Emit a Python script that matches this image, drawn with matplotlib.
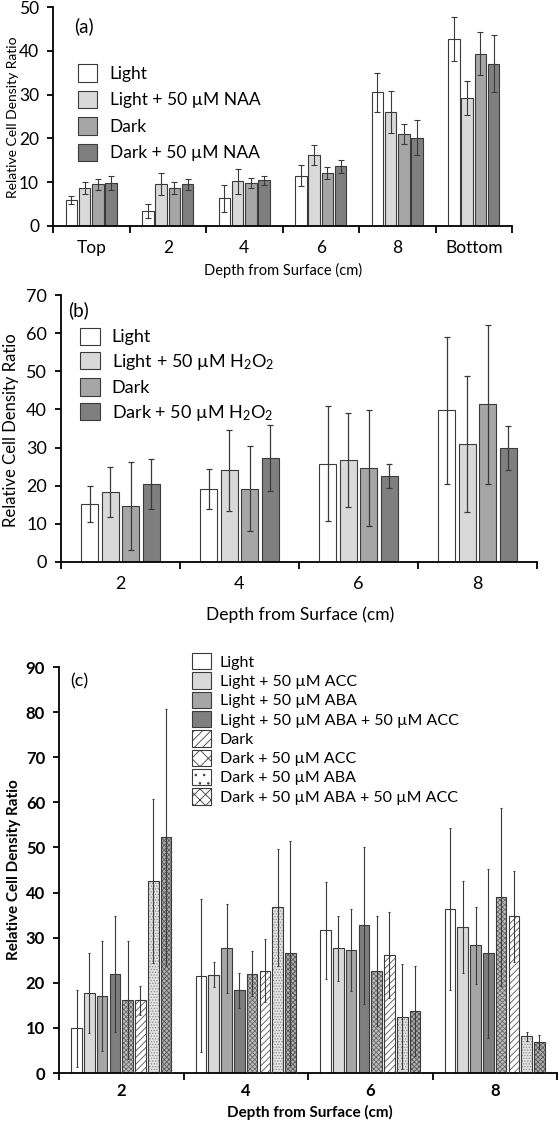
import matplotlib
matplotlib.use("Agg")
import matplotlib.pyplot as plt
from matplotlib.patches import Patch
import numpy as np

plt.rcParams['font.family'] = ['Lato', 'DejaVu Sans']
plt.rcParams['mathtext.fontset'] = 'custom'
plt.rcParams['mathtext.rm'] = 'Lato'
plt.rcParams['mathtext.it'] = 'Lato:italic'
plt.rcParams['hatch.linewidth'] = 0.6

# ---------------- data ----------------
cats_a = ["Top", "2", "4", "6", "8", "Bottom"]
series_a = ["Light", "Light + 50 µM NAA", "Dark", "Dark + 50 µM NAA"]
light_a = [6.0, 3.4, 6.3, 11.5, 30.5, 42.7]
light_naa_a = [8.7, 9.5, 10.2, 16.3, 26.1, 29.2]
dark_a = [9.5, 8.7, 9.8, 12.1, 21.0, 39.3]
dark_naa_a = [9.8, 9.5, 10.4, 13.6, 20.1, 37.0]
err_light_a = [0.9, 1.6, 3.1, 2.4, 4.4, 5.1]
err_light_naa_a = [1.4, 2.5, 2.8, 2.3, 4.8, 3.9]
err_dark_a = [1.3, 1.4, 1.2, 1.3, 2.3, 4.9]
err_dark_naa_a = [1.6, 1.3, 1.1, 1.4, 4.0, 6.5]

cats_b = ["2", "4", "6", "8"]
series_b = ["Light", "Light + 50 µM H$_2$O$_2$", "Dark", "Dark + 50 µM H$_2$O$_2$"]
light_b = [15.2, 19.2, 25.8, 39.8]
light_h2o2_b = [18.4, 24.1, 26.8, 30.9]
dark_b = [14.7, 19.2, 24.7, 41.3]
dark_h2o2_b = [20.5, 27.3, 22.5, 29.9]
err_light_b = [4.8, 5.3, 15.0, 19.3]
err_light_h2o2_b = [6.5, 10.6, 12.3, 17.8]
err_dark_b = [11.5, 11.2, 15.2, 20.8]
err_dark_h2o2_b = [6.5, 8.6, 3.1, 5.8]

cats_c = ["2", "4", "6", "8"]
series_c = ["Light", "Light + 50 µM ACC", "Light + 50 µM ABA",
            "Light + 50 µM ABA + 50 µM ACC", "Dark", "Dark + 50 µM ACC",
            "Dark + 50 µM ABA", "Dark + 50 µM ABA + 50 µM ACC"]
light_c = [9.9, 21.6, 31.6, 36.4]
light_acc_c = [17.7, 21.8, 27.6, 32.3]
light_aba_c = [17.1, 27.6, 27.3, 28.3]
light_aba_acc_c = [21.9, 18.3, 32.7, 26.5]
dark_c = [16.1, 22.0, 22.7, 39.0]
dark_acc_c = [16.1, 22.7, 26.1, 34.7]
dark_aba_c = [42.5, 36.7, 12.5, 8.1]
dark_aba_acc_c = [52.3, 26.6, 13.8, 6.9]
err_light_c = [8.5, 16.9, 10.8, 17.9]
err_light_acc_c = [8.9, 2.7, 7.1, 10.2]
err_light_aba_c = [12.2, 9.9, 9.1, 8.5]
err_light_aba_acc_c = [12.9, 3.8, 17.3, 18.8]
err_dark_c = [13.1, 5.0, 12.2, 19.7]
err_dark_acc_c = [3.2, 7.0, 9.5, 10.1]
err_dark_aba_c = [18.2, 12.9, 11.6, 0.9]
err_dark_aba_acc_c = [28.5, 24.9, 10.0, 1.5]

# ---------------- layout ----------------
W, H = 559, 1126
fig = plt.figure(figsize=(W / 100, H / 100), dpi=100)


def rect(l, r, t, b):
    return [l / W, 1 - b / H, (r - l) / W, (b - t) / H]


EDGE = '#3a3a3a'
ERR = '#3a3a3a'


def style_axes(ax, ncat, cats, ymax, ystep, fs, bold=False, pad=10):
    ax.set_xlim(0, ncat)
    ax.set_ylim(0, ymax)
    for s in ['top', 'right']:
        ax.spines[s].set_visible(False)
    for s in ['left', 'bottom']:
        ax.spines[s].set_color('#000000')
        ax.spines[s].set_linewidth(1.3)
    ax.set_yticks(np.arange(0, ymax + 0.1, ystep))
    ax.set_xticks(np.arange(0, ncat + 1))
    ax.set_xticklabels([])
    ax.set_xticks(np.arange(ncat) + 0.5, minor=True)
    ax.set_xticklabels(cats, minor=True,
                       fontsize=fs, fontweight='bold' if bold else 'normal')
    ax.tick_params(axis='x', which='major', length=5, width=1.3, direction='out')
    ax.tick_params(axis='x', which='minor', length=0, pad=pad)
    ax.tick_params(axis='y', length=4, width=1.3, direction='out', pad=6,
                   labelsize=fs)
    if bold:
        for t in ax.get_yticklabels():
            t.set_fontweight('bold')


def draw_group_bars(ax, values, errors, colors, hatches, occ, barfrac, capsize,
                    elw, hatchcols=None):
    n = len(values)
    slot = occ / n
    for j in range(n):
        x = np.arange(len(values[j])) + 0.5 + (j - (n - 1) / 2) * slot
        w = slot * barfrac
        if hatches[j]:
            ax.bar(x, values[j], width=w, color=colors[j], edgecolor=hatchcols[j],
                   hatch=hatches[j], linewidth=0, zorder=2)
            ax.bar(x, values[j], width=w, fill=False, edgecolor=EDGE,
                   linewidth=0.8, zorder=3)
        else:
            ax.bar(x, values[j], width=w, color=colors[j], edgecolor=EDGE,
                   linewidth=0.8, zorder=2)
        ax.errorbar(x, values[j], yerr=errors[j], fmt='none', ecolor=ERR,
                    elinewidth=elw, capsize=capsize, capthick=elw, zorder=4)


# ---------------- panel (a) ----------------
axa = fig.add_axes(rect(53, 512, 7, 226))
cols4 = ['#ffffff', '#d9d9d9', '#a6a6a6', '#7f7f7f']
draw_group_bars(axa, [light_a, light_naa_a, dark_a, dark_naa_a],
                [err_light_a, err_light_naa_a, err_dark_a, err_dark_naa_a],
                cols4, [None] * 4, 0.69, 0.87, 2.0, 0.8)
style_axes(axa, 6, cats_a, 50, 10, 12.5)
axa.text(0.045, 0.955, '(a)', transform=axa.transAxes, fontsize=13.5,
         va='top', ha='left')
handles_a = [Patch(facecolor=c, edgecolor=EDGE, linewidth=0.8) for c in cols4]
axa.legend(handles_a, series_a, loc='upper left', bbox_to_anchor=(0.04, 0.77),
           frameon=False, fontsize=12.5, handlelength=1.1, handleheight=1.15,
           handletextpad=0.7, labelspacing=0.52, borderaxespad=0)
fig.text(283 / W, 1 - 270 / H, 'Depth from Surface (cm)', fontsize=10.5,
         ha='center', va='center')
fig.text(13 / W, 1 - 117 / H, 'Relative Cell Density Ratio', fontsize=10,
         ha='center', va='center', rotation=90)

# ---------------- panel (b) ----------------
axb = fig.add_axes(rect(61, 537, 295, 562))
draw_group_bars(axb, [light_b, light_h2o2_b, dark_b, dark_h2o2_b],
                [err_light_b, err_light_h2o2_b, err_dark_b, err_dark_h2o2_b],
                cols4, [None] * 4, 0.69, 0.85, 2.2, 0.9)
style_axes(axb, 4, cats_b, 70, 10, 13)
axb.text(0.015, 0.975, '(b)', transform=axb.transAxes, fontsize=13.5,
         va='top', ha='left')
handles_b = [Patch(facecolor=c, edgecolor=EDGE, linewidth=0.8) for c in cols4]
axb.legend(handles_b, series_b, loc='upper left', bbox_to_anchor=(0.025, 0.905),
           frameon=False, fontsize=13, handlelength=1.1, handleheight=1.1,
           handletextpad=0.65, labelspacing=0.36, borderaxespad=0)
fig.text(300 / W, 1 - 615 / H, 'Depth from Surface (cm)', fontsize=12.5,
         ha='center', va='center')
fig.text(11 / W, 1 - 430 / H, 'Relative Cell Density Ratio', fontsize=12,
         ha='center', va='center', rotation=90)

# ---------------- panel (c) ----------------
axc = fig.add_axes(rect(59, 557, 667, 1073))
cols8 = ['#ffffff', '#d9d9d9', '#a6a6a6', '#7f7f7f',
         '#bdbdbd', '#ffffff', '#e3e3e3', '#b0b0b0']
hatches8 = [None, None, None, None, 'xxxxxxx', '/////', '......', 'xxxxxxx']
hatchcols8 = [None, None, None, None, '#6a6a6a', '#555555', '#8a8a8a', '#5a5a5a']
draw_group_bars(axc, [light_c, light_acc_c, light_aba_c, light_aba_acc_c,
                      dark_c, dark_acc_c, dark_aba_c, dark_aba_acc_c],
                [err_light_c, err_light_acc_c, err_light_aba_c,
                 err_light_aba_acc_c, err_dark_c, err_dark_acc_c,
                 err_dark_aba_c, err_dark_aba_acc_c],
                cols8, hatches8, 0.82, 0.84, 1.0, 0.8, hatchcols8)
style_axes(axc, 4, cats_c, 90, 10, 12, bold=True, pad=7)
axc.text(0.022, 0.985, '(c)', transform=axc.transAxes, fontsize=13,
         va='top', ha='left')
leg_hatch = [None, None, None, None, '////', 'xx', '..', 'xxx']
leg_face = ['#ffffff', '#d9d9d9', '#a6a6a6', '#7f7f7f',
            '#ffffff', '#ffffff', '#ffffff', '#ffffff']
handles_c = []
for j in range(8):
    handles_c.append(Patch(facecolor=leg_face[j], edgecolor=EDGE,
                           hatch=leg_hatch[j], linewidth=0.8))
axc.legend(handles_c, series_c, loc='upper left', bbox_to_anchor=(0.255, 1.05),
           frameon=False, fontsize=11.5, handlelength=1.15, handleheight=1.2,
           handletextpad=0.55, labelspacing=0.17, borderaxespad=0)
fig.text(310 / W, 1 - 1112 / H, 'Depth from Surface (cm)', fontsize=11,
         fontweight='bold', ha='center', va='center')
fig.text(14 / W, 1 - 870 / H, 'Relative Cell Density Ratio', fontsize=11,
         fontweight='bold', ha='center', va='center', rotation=90)

fig.savefig('out.png', dpi=100, facecolor='white')
